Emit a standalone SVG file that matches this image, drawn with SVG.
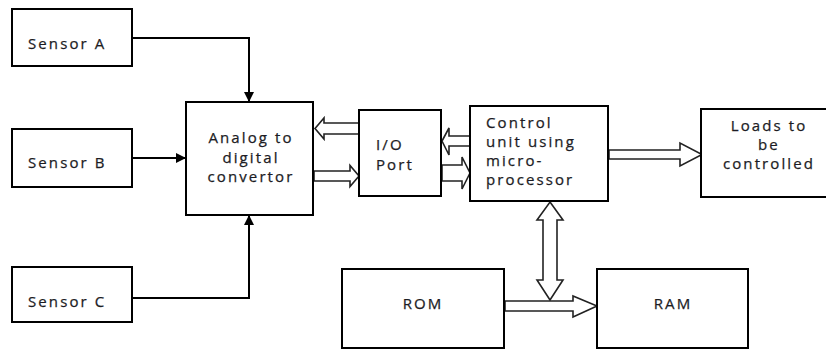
<svg xmlns="http://www.w3.org/2000/svg" width="826" height="349" viewBox="0 0 826 349">
<defs>
<style>
.box{fill:#fff;stroke:#000;stroke-width:2}
.t{font-family:"Open Sans","Liberation Sans",sans-serif;font-size:15px;letter-spacing:2.1px;fill:#1c1c24;stroke:#1c1c24;stroke-width:0.25}
.c{text-anchor:middle}
.ln{fill:none;stroke:#000;stroke-width:2}
.blk{fill:#fff;stroke:#222;stroke-width:1.6;stroke-linejoin:miter}
</style>
<marker id="ah" markerUnits="userSpaceOnUse" markerWidth="10" markerHeight="10" refX="10" refY="5" orient="auto">
<path d="M0,0 L10,5 L0,10 z" fill="#000"/>
</marker>
</defs>
<rect width="826" height="349" fill="#fff"/>
<g id="connectors">
<path class="ln" d="M132,38 H249 V102" marker-end="url(#ah)"/>
<path class="ln" d="M132,158 H186" marker-end="url(#ah)"/>
<path class="ln" d="M132,298 H249 V215" marker-end="url(#ah)"/>
<polygon class="blk" points="315,128.5 324,118 324,123 359,123 359,134 324,134 324,139"/>
<polygon class="blk" points="314,171 350,171 350,165.5 359,176 350,186.5 350,181 314,181"/>
<polygon class="blk" points="442,141 449,128 449,136 470,136 470,146 449,146 449,155"/>
<polygon class="blk" points="442,165 462,165 462,157 470,173 462,189 462,181 442,181"/>
<polygon class="blk" points="609,150 680,150 680,143 702,154.5 680,166 680,159 609,159"/>
<polygon class="blk" points="550,202 563,220 557,220 557,280 563,280 550,300 537,280 543,280 543,220 537,220"/>
<polygon class="blk" points="505,301 573,301 573,296 597,306 573,317 573,311 505,311"/>
</g>
<g id="sensorA"><rect class="box" x="12" y="9" width="120" height="57"/><text class="t" x="28" y="49">Sensor A</text></g>
<g id="sensorB"><rect class="box" x="12" y="129" width="120" height="58"/><text class="t" x="28" y="168">Sensor B</text></g>
<g id="sensorC"><rect class="box" x="12" y="267" width="120" height="55"/><text class="t" x="28" y="307">Sensor C</text></g>
<g id="adc"><rect class="box" x="186" y="102" width="127" height="113"/>
<text class="t c" x="251" y="143">Analog to</text><text class="t c" x="251" y="162.5">digital</text><text class="t c" x="251" y="182">convertor</text></g>
<g id="io"><rect class="box" x="359" y="110" width="82" height="86"/>
<text class="t" x="376" y="150">I/O</text><text class="t" x="376" y="170">Port</text></g>
<g id="cu"><rect class="box" x="470" y="106" width="138" height="95"/>
<text class="t" x="486" y="127.5">Control</text><text class="t" x="486" y="147">unit using</text><text class="t" x="486" y="166">micro-</text><text class="t" x="486" y="184.5">processor</text></g>
<g id="loads"><rect class="box" x="701" y="109" width="130" height="88"/>
<text class="t c" x="769" y="131">Loads to</text><text class="t c" x="769" y="150">be</text><text class="t c" x="769" y="169">controlled</text></g>
<g id="rom"><rect class="box" x="342" y="269" width="162" height="79"/><text class="t c" x="423" y="309">ROM</text></g>
<g id="ram"><rect class="box" x="597" y="269" width="151" height="79"/><text class="t c" x="673" y="309">RAM</text></g>
</svg>
